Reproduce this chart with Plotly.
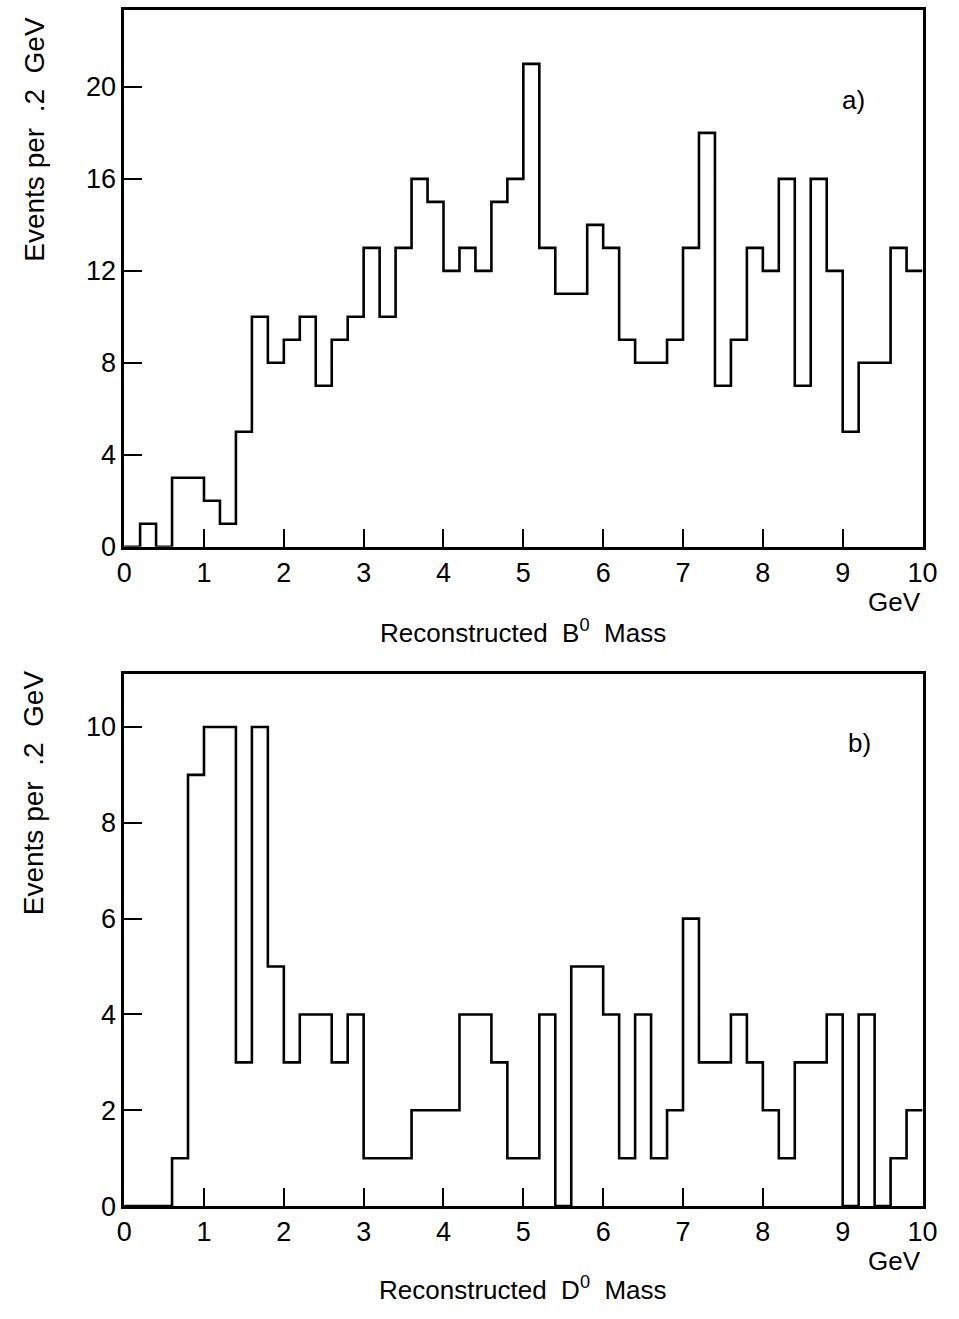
import numpy as np
import plotly.graph_objects as go

# ---- data (events per 0.2 GeV bin, 0..10 GeV) ----
bin_width = 0.2
b0_counts = [0, 1, 0, 3, 3, 2, 1, 5, 10, 8,
             9, 10, 7, 9, 10, 13, 10, 13, 16, 15,
             12, 13, 12, 15, 16, 21, 13, 11, 11, 14,
             13, 9, 8, 8, 9, 13, 18, 7, 9, 13,
             12, 16, 7, 16, 12, 5, 8, 8, 13, 12]
d0_counts = [0, 0, 0, 1, 9, 10, 10, 3, 10, 5,
             3, 4, 4, 3, 4, 1, 1, 1, 2, 2,
             2, 4, 4, 3, 1, 1, 4, 0, 5, 5,
             4, 1, 4, 1, 2, 6, 3, 3, 4, 3,
             2, 1, 3, 3, 4, 0, 4, 0, 1, 2]
x_ticks = list(range(0, 11))
b0_yticks = [0, 4, 8, 12, 16, 20]
d0_yticks = [0, 2, 4, 6, 8, 10]
labels = {"a": "a)", "b": "b)"}
xtitle_top = "Reconstructed  B<sup>0</sup>  Mass"
xtitle_bot = "Reconstructed  D<sup>0</sup>  Mass"
ytitle = "Events per  .2  GeV"

edges = np.round(np.arange(len(b0_counts) + 1) * bin_width, 2)

W, H = 959, 1319
def px(x):
    return x / W
def py(y):
    return 1 - y / H

FONT = "Liberation Sans, Arial, sans-serif"
LW = 2.6

fig = go.Figure()
fig.add_trace(go.Scatter(x=edges, y=b0_counts + [b0_counts[-1]], mode="lines",
                         line=dict(shape="hv", color="black", width=LW),
                         xaxis="x", yaxis="y", showlegend=False))
fig.add_trace(go.Scatter(x=edges, y=d0_counts + [d0_counts[-1]], mode="lines",
                         line=dict(shape="hv", color="black", width=LW),
                         xaxis="x2", yaxis="y2", showlegend=False))

xdom = [px(119), px(937)]
axis_common = dict(showgrid=False, zeroline=False, showline=True, linecolor="black",
                   linewidth=LW, mirror=True, ticks="inside", ticklen=18, tickwidth=2,
                   tickcolor="black", tickfont=dict(family=FONT, size=27, color="black"))

fig.update_layout(
    width=W, height=H, margin=dict(l=0, r=0, t=0, b=0),
    paper_bgcolor="white", plot_bgcolor="white",
    xaxis=dict(domain=xdom, range=[0, 10], tickvals=x_ticks, anchor="y", **axis_common),
    yaxis=dict(domain=[py(553), py(10)], range=[0, 23.35], tickvals=b0_yticks,
               anchor="x", **axis_common),
    xaxis2=dict(domain=xdom, range=[0, 10], tickvals=x_ticks, anchor="y2", **axis_common),
    yaxis2=dict(domain=[py(1220), py(682)], range=[0, 11.1], tickvals=d0_yticks,
                anchor="x2", **axis_common),
)

yf = dict(family=FONT, size=28, color="black")
xf = dict(family=FONT, size=26, color="black")
ann = [
    dict(text=ytitle, x=px(27), y=py(141), textangle=-90, font=yf),
    dict(text=ytitle, x=px(27), y=py(802), textangle=-90, font=yf),
    dict(text=xtitle_top, x=px(528), y=py(639), font=xf),
    dict(text=xtitle_bot, x=px(528), y=py(1303), font=xf),
    dict(text="GeV", x=px(937), y=py(609), xanchor="right", font=xf),
    dict(text="GeV", x=px(937), y=py(1275), xanchor="right", font=xf),
    dict(text=labels["a"], x=px(866), y=py(101), font=xf),
    dict(text=labels["b"], x=px(872), y=py(752), font=xf),
]
for a in ann:
    a.setdefault("xanchor", "center")
    fig.add_annotation(xref="paper", yref="paper", showarrow=False,
                       yanchor="middle", **a)

fig.write_html("out.html")
